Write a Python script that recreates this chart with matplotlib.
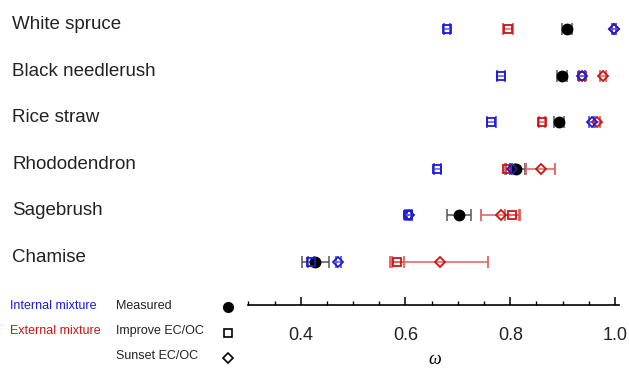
import matplotlib
matplotlib.use("Agg")
import matplotlib.pyplot as plt
import numpy as np

plt.rcParams['font.family'] = ['Liberation Sans', 'DejaVu Sans']

species = ['White spruce', 'Black needlerush', 'Rice straw',
           'Rhododendron', 'Sagebrush', 'Chamise']

measured = [0.908, 0.899, 0.893, 0.810, 0.702, 0.428]
measured_err = [0.010, 0.010, 0.010, 0.019, 0.023, 0.026]

int_improve = [0.679, 0.782, 0.764, 0.661, 0.605, 0.419]
int_improve_err = [0.006, 0.008, 0.008, 0.007, 0.006, 0.006]
int_sunset = [0.998, 0.937, 0.955, 0.804, 0.607, 0.472]
int_sunset_err = [0.004, 0.005, 0.005, 0.005, 0.005, 0.005]

ext_improve = [0.796, 0.937, 0.861, 0.794, 0.803, 0.584]
ext_improve_err = [0.009, 0.006, 0.006, 0.005, 0.013, 0.014]
ext_sunset = [0.998, 0.977, 0.966, 0.858, 0.782, 0.666]
ext_sunset_err = [0.004, 0.006, 0.005, 0.0275, 0.037, 0.091]

BLUE = '#1a1ad8'
RED = '#cc1414'

W, H = 629, 370
fig = plt.figure(figsize=(W / 100, H / 100), dpi=100)

x0, x1 = 0.3, 1.007
left_px, right_px = 248.3, 248.3 + (x1 - x0) * 524
ax = fig.add_axes([left_px / W, (H - 305) / H, (right_px - left_px) / W, 305 / H])

n = len(species)
ypos = np.arange(n)[::-1]  # top row first


def draw(vals, errs, marker, color, ecolor, ms):
    ax.errorbar(vals, ypos, xerr=errs, fmt=marker, color=color, mfc='none',
                mec=color, mew=1.3, ms=ms, ecolor=ecolor, elinewidth=1.1,
                capsize=4.5, capthick=1.1, clip_on=False)


ax.errorbar(measured, ypos, xerr=measured_err, fmt='o', color='black', ms=7.5,
            ecolor='#555555', elinewidth=1.1, capsize=4.5, capthick=1.1, clip_on=False)
draw(ext_improve, ext_improve_err, 's', RED, '#e06060', 6)
draw(ext_sunset, ext_sunset_err, 'D', RED, '#e06060', 5.5)
draw(int_improve, int_improve_err, 's', BLUE, '#5a5ae8', 6)
draw(int_sunset, int_sunset_err, 'D', BLUE, '#5a5ae8', 5.5)

label_tr = matplotlib.transforms.blended_transform_factory(fig.transFigure, ax.transData)
for name, y in zip(species, ypos):
    ax.text(12 / W, y, name, transform=label_tr,
            fontsize=13.5, color='#222222', va='baseline', ha='left')

ax.set_xlim(x0, x1)
ax.set_ylim(-0.923, 5.622)
for s in ['top', 'right', 'left']:
    ax.spines[s].set_visible(False)
ax.spines['bottom'].set_linewidth(1.2)
ax.set_yticks([])
ax.set_xticks([0.4, 0.6, 0.8, 1.0])
ax.set_xticklabels(['0.4', '0.6', '0.8', '1.0'])
ax.set_xticks(np.arange(0.3, 1.001, 0.05), minor=True)
ax.tick_params(axis='x', which='major', direction='in', length=6, width=1.1,
               labelsize=13, pad=16, colors='black', labelcolor='#222222')
ax.tick_params(axis='x', which='minor', direction='in', length=3, width=1.0)

fig.text(435 / W, 1 - 360 / H, 'ω', fontsize=13, ha='center', va='center',
         family=['Liberation Serif', 'DejaVu Serif'], style='italic')

# key
fig.text(10 / W, 1 - 306 / H, 'Internal mixture', color=BLUE, fontsize=9, va='center')
fig.text(10 / W, 1 - 331 / H, 'External mixture', color=RED, fontsize=9, va='center')
fig.text(116 / W, 1 - 306 / H, 'Measured', color='#222222', fontsize=9, va='center')
fig.text(116 / W, 1 - 331 / H, 'Improve EC/OC', color='#222222', fontsize=9, va='center')
fig.text(116 / W, 1 - 356 / H, 'Sunset EC/OC', color='#222222', fontsize=9, va='center')
fig.lines.append(plt.Line2D([228 / W], [1 - 306.5 / H], marker='o', color='black', ms=7,
                            transform=fig.transFigure))
fig.lines.append(plt.Line2D([228 / W], [1 - 332.5 / H], marker='s', color='black', mfc='none',
                            ms=5.5, mew=1.2, transform=fig.transFigure))
fig.lines.append(plt.Line2D([228 / W], [1 - 357.5 / H], marker='D', color='black', mfc='none',
                            ms=5.5, mew=1.2, transform=fig.transFigure))

fig.savefig('out.png', dpi=100)
